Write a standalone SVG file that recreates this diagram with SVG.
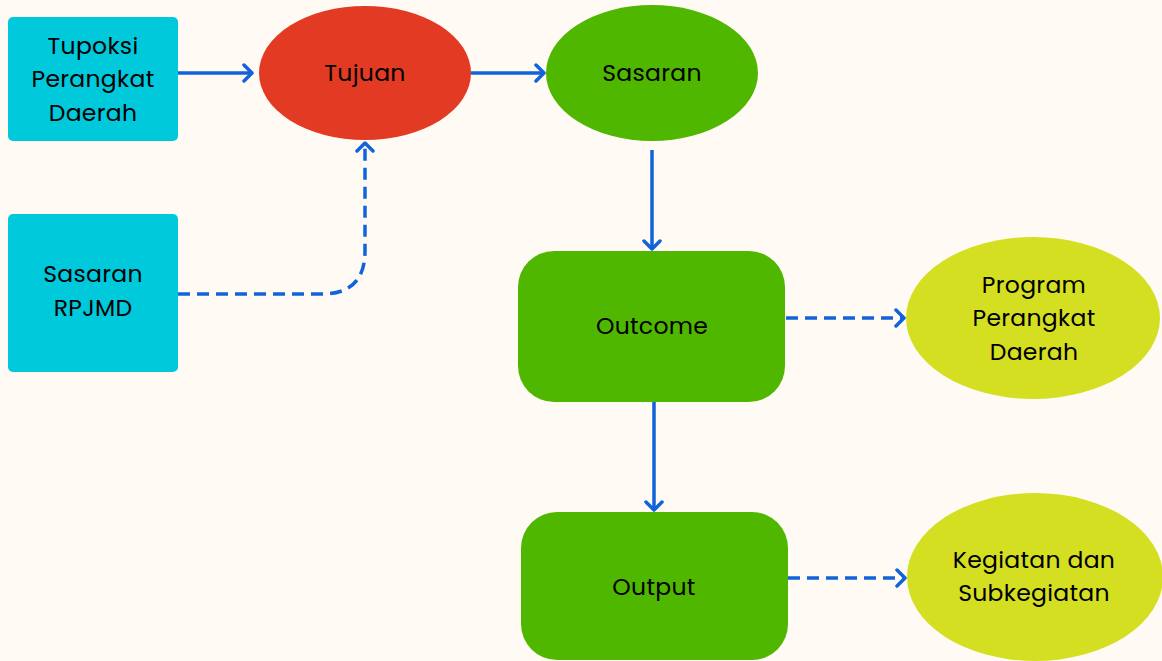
<svg xmlns="http://www.w3.org/2000/svg" width="1162" height="661" viewBox="0 0 1162 661">
<style>
.lbl{font-family:"Poppins","Open Sans","Noto Sans",sans-serif;font-size:23.5px;letter-spacing:0.3px;fill:#000;text-anchor:middle;dominant-baseline:central}
.cn{fill:none;stroke:#1262D9;stroke-width:3.5}
.dash{stroke-dasharray:12 7}
.cyan{fill:#00C9DC}
.green{fill:#4FB700}
.lime{fill:#D5DF22}
</style>
<defs>
<marker id="ah" markerUnits="userSpaceOnUse" markerWidth="20" markerHeight="20" viewBox="-12 -10 14 20" refX="0" refY="0" orient="auto">
<path d="M-8,-8 L0,0 L-8,8" fill="none" stroke="#1262D9" stroke-width="3.5" stroke-linecap="round" stroke-linejoin="round"/>
</marker>
</defs>
<rect width="1162" height="661" fill="#FFFBF4"/>
<g id="connectors">
<path class="cn" d="M178,73 H252" marker-end="url(#ah)"/>
<path class="cn" d="M471,73 H544" marker-end="url(#ah)"/>
<path class="cn dash" d="M178,294 H322 Q365,294 365,251 V143" marker-end="url(#ah)"/>
<path class="cn" d="M652,150 V249" marker-end="url(#ah)"/>
<path class="cn dash" d="M786,318 H904" marker-end="url(#ah)"/>
<path class="cn" d="M654,402 V510" marker-end="url(#ah)"/>
<path class="cn dash" d="M788,578 H905" marker-end="url(#ah)"/>
</g>
<g id="tupoksi">
<rect class="cyan" x="8" y="17" width="170" height="124" rx="5"/>
<text class="lbl" x="93" y="45">Tupoksi</text>
<text class="lbl" x="93" y="78">Perangkat</text>
<text class="lbl" x="93" y="112">Daerah</text>
</g>
<g id="rpjmd">
<rect class="cyan" x="8" y="214" width="170" height="158" rx="5"/>
<text class="lbl" x="93" y="273">Sasaran</text>
<text class="lbl" x="93" y="307">RPJMD</text>
</g>
<g id="tujuan">
<ellipse cx="365" cy="73" rx="106" ry="67" fill="#E33A24"/>
<text class="lbl" x="365" y="72">Tujuan</text>
</g>
<g id="sasaran">
<ellipse cx="652" cy="73" rx="106" ry="68" class="green"/>
<text class="lbl" x="652" y="72">Sasaran</text>
</g>
<g id="outcome">
<rect class="green" x="518" y="251" width="267" height="151" rx="36"/>
<text class="lbl" x="652" y="325">Outcome</text>
</g>
<g id="output">
<rect class="green" x="521" y="512" width="267" height="148" rx="36"/>
<text class="lbl" x="654" y="586">Output</text>
</g>
<g id="program">
<ellipse class="lime" cx="1033" cy="318" rx="127" ry="81"/>
<text class="lbl" x="1034" y="284">Program</text>
<text class="lbl" x="1034" y="317">Perangkat</text>
<text class="lbl" x="1034" y="351">Daerah</text>
</g>
<g id="kegiatan">
<ellipse class="lime" cx="1035" cy="577" rx="128" ry="84"/>
<text class="lbl" x="1034" y="559">Kegiatan dan</text>
<text class="lbl" x="1034" y="592">Subkegiatan</text>
</g>
</svg>
